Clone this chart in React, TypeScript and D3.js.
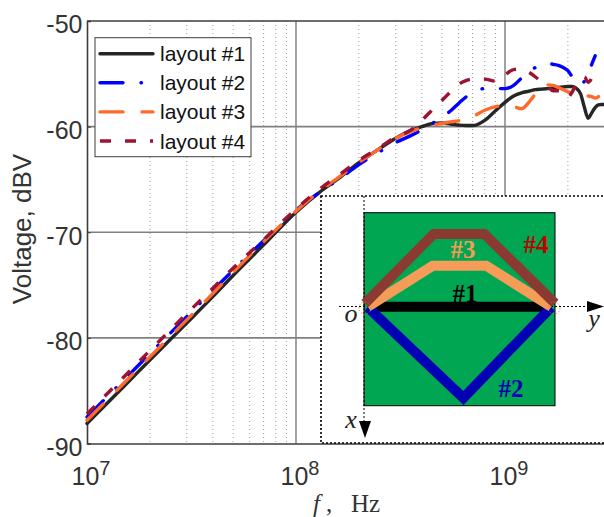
import React, { useEffect, useRef } from 'react';
import * as d3 from 'd3';

const width = 604;
const height = 517;

// frequency grid in MHz, shared by the four traces
const freqs = [10, 15, 20, 30, 40, 50, 70, 100, 130, 160, 200, 250, 300, 350, 400, 450, 500, 550, 600, 650, 700, 800, 900, 1000, 1100, 1200, 1300, 1400, 1500, 1600, 1700, 1800, 1900, 2000, 2100, 2200, 2300, 2400, 2500, 2600, 2700, 2800, 2900, 3000];

const layout1 = [-88.1, -84.6, -82.1, -78.6, -76.1, -74.1, -71.2, -68.1, -66.2, -64.9, -63.4, -62.1, -61.1, -60.4, -60.0, -59.7, -59.65, -59.75, -59.85, -59.9, -59.9, -59.4, -58.5, -57.7, -57.1, -56.8, -56.65, -56.5, -56.45, -56.4, -56.35, -56.3, -56.25, -56.2, -56.2, -56.4, -56.9, -58.2, -59.2, -58.7, -58.2, -57.95, -57.9, -57.9];
const layout2 = [-87.5, -84.0, -81.5, -78.0, -75.5, -73.6, -70.8, -67.9, -66.2, -65.0, -63.6, -62.4, -61.5, -60.9, -60.3, -59.7, -59.1, -58.5, -57.8, -57.2, -56.8, -56.4, -56.4, -56.4, -56.1, -55.4, -54.8, -54.4, -54.1, -54.0, -54.1, -54.2, -54.4, -54.7, -55.3, -55.8, -56.0, -55.7, -55.0, -54.1, -53.3, null, null, null];
const layout3 = [-87.8, -84.3, -81.8, -78.3, -75.8, -73.8, -70.9, -68.0, -66.1, -64.8, -63.4, -62.1, -61.1, -60.5, -60.1, -59.85, -59.7, -59.55, -59.45, -59.25, -59.05, -58.45, -58.1, -58.0, -58.1, -58.3, -57.7, -56.9, -56.2, -56.05, -56.1, -56.3, -56.5, -56.7, -56.85, -57.0, -57.05, -57.1, -57.1, -57.15, -57.3, -57.15, null, null];
const layout4 = [-87.2, -83.7, -81.2, -77.7, -75.3, -73.4, -70.7, -67.8, -65.9, -64.6, -63.2, -62.0, -61.0, -60.4, -59.4, -58.4, -57.5, -56.7, -56.0, -55.65, -55.5, -55.5, -55.7, -55.1, -54.6, -54.55, -54.85, -55.3, -55.8, -56.2, -56.6, -56.6, -56.7, -57.2, -56.7, -55.9, -55.4, -55.3, -55.8, -55.4, -54.4, null, null, null];

const names = ['layout #1', 'layout #2', 'layout #3', 'layout #4'];
const colors = ['#262626', '#0000ff', '#ff6a2a', '#9e1232'];
const dashes = ['none', '23 18 0.5 18', '23 19', '11 14'];
const caps = ['round', 'round', 'round', 'butt'];

const yTicks = [-50, -60, -70, -80, -90];
const xDecades = [10, 100, 1000];
const xExponents = [7, 8, 9];
const minorFreqs = [20, 30, 40, 50, 60, 70, 80, 90, 200, 300, 400, 500, 600, 700, 800, 900, 2000, 3000];

// inset sketch: board outlines in board units (0..1 across, 0..1 down)
const trace1 = [[0.02, 0.487], [0.98, 0.487]];
const trace2 = [[0.02, 0.49], [0.52, 0.96], [0.98, 0.49]];
const trace3 = [[0.02, 0.487], [0.36, 0.275], [0.64, 0.275], [0.98, 0.487]];
const trace4 = [[0.005, 0.47], [0.365, 0.11], [0.63, 0.11], [1.0, 0.47]];
const traceColors = ['#000000', '#0000b4', '#f49c58', '#8b3a32'];

export default function App() {
  const ref = useRef<SVGSVGElement>(null);

  useEffect(() => {
    const svg = d3.select(ref.current);
    svg.selectAll('*').remove();

    const x = d3.scaleLog().domain([10, 3000]).range([87, 604.7]);
    const y = d3.scaleLinear().domain([-90, -50]).range([443.5, 21]);

    const sans = 'Liberation Sans, Arial, sans-serif';
    const serif = 'Liberation Serif, Times New Roman, serif';

    // grid
    svg.append('g').selectAll('line').data(minorFreqs).enter().append('line')
      .attr('x1', d => x(d)).attr('x2', d => x(d))
      .attr('y1', y(-50)).attr('y2', y(-90))
      .attr('stroke', '#a0a0a0').attr('stroke-width', 1).attr('stroke-dasharray', '1 3');

    svg.append('g').selectAll('line').data([100, 1000]).enter().append('line')
      .attr('x1', d => x(d)).attr('x2', d => x(d))
      .attr('y1', y(-50)).attr('y2', y(-90))
      .attr('stroke', '#8c8c8c').attr('stroke-width', 1.6);

    svg.append('g').selectAll('line').data([-60, -70, -80]).enter().append('line')
      .attr('x1', x(10)).attr('x2', width)
      .attr('y1', d => y(d)).attr('y2', d => y(d))
      .attr('stroke', '#808080').attr('stroke-width', 1.6);

    // axes
    const yAxis = svg.append('g')
      .attr('transform', 'translate(' + x(10) + ',0)')
      .call(d3.axisLeft(y).tickValues(yTicks).tickFormat(d => String(d)).tickSize(-4).tickPadding(4.5));
    yAxis.select('.domain').attr('stroke', '#3c3c3c').attr('stroke-width', 1.6);
    yAxis.selectAll('.tick line').attr('stroke', '#3c3c3c');
    yAxis.selectAll('text')
      .attr('font-family', sans).attr('font-size', 25).attr('fill', '#333').attr('dy', '0.47em');

    const xAxis = svg.append('g')
      .attr('transform', 'translate(0,' + y(-90) + ')')
      .call(d3.axisBottom(x).tickValues(xDecades).tickFormat(() => '').tickSize(0));
    xAxis.select('.domain').attr('stroke', '#3c3c3c').attr('stroke-width', 1.6);

    svg.append('line')
      .attr('x1', x(10)).attr('x2', width).attr('y1', y(-50)).attr('y2', y(-50))
      .attr('stroke', '#3c3c3c').attr('stroke-width', 1.6);

    xDecades.forEach((d, i) => {
      const t = svg.append('text')
        .attr('x', x(d) - 15.5).attr('y', 485)
        .attr('font-family', sans).attr('font-size', 25).attr('fill', '#333');
      t.append('tspan').text('10');
      t.append('tspan').attr('dy', -10).attr('font-size', 20).text(xExponents[i]);
    });

    svg.append('text')
      .attr('transform', 'translate(31,229) rotate(-90)')
      .attr('font-family', sans).attr('font-size', 26).attr('fill', '#333')
      .attr('text-anchor', 'middle').text('Voltage, dBV');

    const labelBits = [
      { t: 'f', x: 313, italic: true },
      { t: ',', x: 326, italic: false },
      { t: 'Hz', x: 351, italic: false },
    ];
    labelBits.forEach(d => {
      svg.append('text').attr('x', d.x).attr('y', 512)
        .attr('font-family', serif).attr('font-size', 25).attr('fill', '#333')
        .attr('font-style', d.italic ? 'italic' : 'normal').text(d.t);
    });

    // inset panel
    const inset = svg.append('g');
    inset.append('rect').attr('x', 321).attr('y', 196).attr('width', 290).attr('height', 247)
      .attr('fill', '#fff').attr('stroke', '#000').attr('stroke-width', 1.6).attr('stroke-dasharray', '2 2');

    const bx = d3.scaleLinear().domain([0, 1]).range([364, 555]);
    const by = d3.scaleLinear().domain([0, 1]).range([212.7, 405.7]);

    inset.append('rect').attr('x', bx(0)).attr('y', by(0))
      .attr('width', bx(1) - bx(0)).attr('height', by(1) - by(0))
      .attr('fill', '#00a651').attr('stroke', '#000').attr('stroke-width', 1);

    inset.append('line').attr('x1', 339).attr('x2', 590).attr('y1', 306.5).attr('y2', 306.5)
      .attr('stroke', '#000').attr('stroke-width', 1).attr('stroke-dasharray', '2 2');
    inset.append('line').attr('x1', bx(0)).attr('x2', bx(0)).attr('y1', 196).attr('y2', 425)
      .attr('stroke', '#000').attr('stroke-width', 1).attr('stroke-dasharray', '2 2');
    inset.append('polygon').attr('points', '587,301 587,312 604,306.5').attr('fill', '#000');
    inset.append('polygon').attr('points', '359,421 371,421 365,438').attr('fill', '#000');

    const traceLine = d3.line<number[]>().x(d => bx(d[0])).y(d => by(d[1]));
    [trace1, trace2, trace3, trace4].forEach((t, i) => {
      inset.append('path').attr('d', traceLine(t)).attr('fill', 'none')
        .attr('stroke', traceColors[i]).attr('stroke-width', 10).attr('stroke-linejoin', 'miter');
    });
    [[0.005, 0.494], [0.995, 0.494]].forEach(p => {
      inset.append('circle').attr('cx', bx(p[0])).attr('cy', by(p[1])).attr('r', 6)
        .attr('fill', 'none').attr('stroke', '#d9703a').attr('stroke-width', 0.7).attr('stroke-dasharray', '1.5 1.5');
    });

    const tags = [
      { t: '#1', x: 465, y: 302, c: '#000000' },
      { t: '#2', x: 511, y: 397, c: '#0000b4' },
      { t: '#3', x: 463, y: 258, c: '#f49c58' },
      { t: '#4', x: 536, y: 253, c: '#c00000' },
    ];
    tags.forEach(d => {
      inset.append('text').attr('x', d.x).attr('y', d.y).attr('text-anchor', 'middle')
        .attr('font-family', serif).attr('font-weight', 'bold').attr('font-size', 25)
        .attr('fill', d.c).text(d.t);
    });
    const axisNames = [
      { t: 'o', x: 351, y: 322 },
      { t: 'y', x: 594, y: 327 },
      { t: 'x', x: 351, y: 428 },
    ];
    axisNames.forEach(d => {
      inset.append('text').attr('x', d.x).attr('y', d.y).attr('text-anchor', 'middle')
        .attr('font-family', serif).attr('font-style', 'italic').attr('font-size', 26)
        .attr('fill', '#222').text(d.t);
    });

    // curves
    const series = [layout1, layout2, layout3, layout4];
    const line = d3.line<number>()
      .defined(d => d !== null)
      .x((d, i) => x(freqs[i]))
      .y(d => y(d))
      .curve(d3.curveMonotoneX);

    series.forEach((s, i) => {
      svg.append('path').attr('d', line(s as number[]))
        .attr('fill', 'none').attr('stroke', colors[i]).attr('stroke-width', 3.4)
        .attr('stroke-linecap', caps[i]).attr('stroke-dasharray', dashes[i]);
    });

    // legend
    const legend = svg.append('g');
    legend.append('rect').attr('x', 95).attr('y', 37.7).attr('width', 156).attr('height', 119)
      .attr('fill', '#fff').attr('stroke', '#3c3c3c').attr('stroke-width', 1);
    const ly = d3.scalePoint<string>().domain(names).range([53.7, 141]);
    names.forEach((n, i) => {
      legend.append('line').attr('x1', 100).attr('x2', 153)
        .attr('y1', ly(n)).attr('y2', ly(n))
        .attr('stroke', colors[i]).attr('stroke-width', 3.4)
        .attr('stroke-linecap', caps[i]).attr('stroke-dasharray', dashes[i]);
      legend.append('text').attr('x', 160).attr('y', (ly(n) as number) + 7.5)
        .attr('font-family', sans).attr('font-size', 21).attr('fill', '#111').text(n);
    });
  }, []);

  return (
    <svg ref={ref} width={width} height={height}
      style={{ position: 'absolute', left: 0, top: 0, background: '#fff' }} />
  );
}
